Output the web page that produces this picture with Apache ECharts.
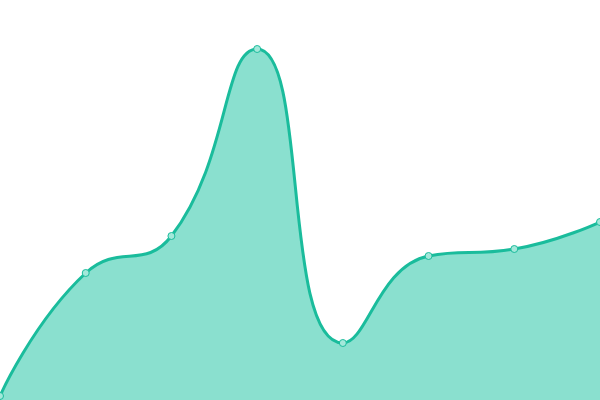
<!DOCTYPE html>
<html>
<head>
<meta charset="utf-8">
<style>
  html, body { margin: 0; padding: 0; background: #fff; }
  #chart { width: 600px; height: 400px; }
</style>
<script src="https://cdn.jsdelivr.net/npm/echarts@6/dist/echarts.min.js"></script>
</head>
<body>
<div id="chart"></div>
<script>
// data
var categories = ['1', '2', '3', '4', '5', '6', '7', '8'];
var values = [4, 127, 164, 351, 57, 144, 151, 178];

var myChart = echarts.init(document.getElementById('chart'));
var option = {
    animation: false,
    grid: { left: 0, right: 0, top: 0, bottom: 0 },
    xAxis: {
        type: 'category',
        data: categories,
        boundaryGap: false,
        show: false
    },
    yAxis: {
        type: 'value',
        min: 0,
        max: 400,
        show: false
    },
    series: [{
        type: 'line',
        data: values,
        smooth: true,
        symbol: 'circle',
        symbolSize: 7,
        itemStyle: {
            color: '#a3e8da',
            borderColor: '#1abc9c',
            borderWidth: 1
        },
        lineStyle: {
            color: '#1abc9c',
            width: 3
        },
        areaStyle: {
            color: '#8ae0cf',
            opacity: 1
        }
    }]
};
myChart.setOption(option);
</script>
</body>
</html>
